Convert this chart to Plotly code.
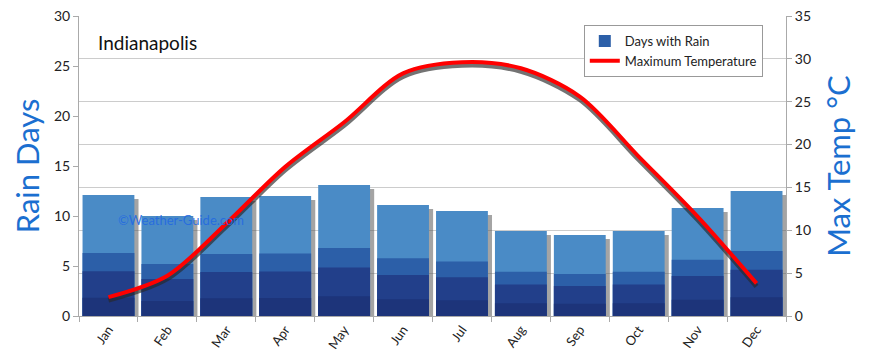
import plotly.graph_objects as go

months = ["Jan", "Feb", "Mar", "Apr", "May", "Jun", "Jul", "Aug", "Sep", "Oct", "Nov", "Dec"]
rain_days = [12.1, 10.0, 11.9, 12.0, 13.1, 11.1, 10.5, 8.5, 8.1, 8.5, 10.8, 12.5]
max_temp = [2.2, 4.7, 10.8, 17.4, 22.6, 28.3, 29.6, 28.9, 25.6, 18.6, 11.6, 3.8]

FONT = "Lato"
BLUE_TITLE = "#1b6fd0"

fig = go.Figure()

# bar drop shadow
fig.add_trace(go.Bar(
    x=months, y=[v - 0.4 for v in rain_days], width=0.88, offset=-0.37,
    marker=dict(color="rgba(90,90,90,0.55)", line=dict(width=0)),
    showlegend=False, hoverinfo="skip"))

# layered bars to mimic gradient
layers = [
    (1.00, "#4a8bc6", False),
    (0.52, "#2c5fa8", True),
    (0.37, "#223f8a", False),
    (0.15, "#1d347a", False),
]
for frac, col, leg in layers:
    fig.add_trace(go.Bar(
        x=months, y=[v * frac for v in rain_days], width=0.88, offset=-0.44,
        marker=dict(color=col, line=dict(width=0)),
        name="Days with Rain", showlegend=leg, hoverinfo="skip"))

# line shadow
fig.add_trace(go.Scatter(
    x=months, y=[t - 0.35 for t in max_temp], yaxis="y2", mode="lines",
    line=dict(color="rgba(40,40,40,0.65)", width=5, shape="spline", smoothing=0.9),
    showlegend=False, hoverinfo="skip"))

fig.add_trace(go.Scatter(
    x=months, y=max_temp, yaxis="y2", mode="lines",
    line=dict(color="#ff0000", width=4, shape="spline", smoothing=0.9),
    name="Maximum Temperature"))

# page body has an 8px margin, so the figure is 8px smaller and shifted
fig.update_layout(
    width=862, height=356,
    margin=dict(l=71, r=84, t=8, b=48, autoexpand=False),
    paper_bgcolor="white", plot_bgcolor="white",
    barmode="overlay",
    font=dict(family=FONT, size=14, color="#222"),
    xaxis=dict(
        automargin=False,
        showline=True, linecolor="#aaaaaa", linewidth=1,
        ticks="outside", tickson="boundaries", ticklen=5, tickcolor="#aaaaaa",
        tickangle=-55, tickfont=dict(size=13, color="#222"),
        showgrid=False, range=[-0.5, 11.5]),
    yaxis=dict(
        automargin=False, ticklabeloverflow="allow",
        range=[0, 30], dtick=5, showgrid=False, zeroline=False,
        showline=True, linecolor="#aaaaaa", ticks="outside", ticklen=5,
        tickcolor="#aaaaaa", tickfont=dict(size=14, color="#222"),
        title=dict(text="Rain Days", font=dict(size=31, color=BLUE_TITLE), standoff=12)),
    yaxis2=dict(
        automargin=False, ticklabeloverflow="allow",
        range=[0, 35], dtick=5, overlaying="y", side="right",
        showgrid=True, gridcolor="#cccccc", gridwidth=1, zeroline=False,
        showline=True, linecolor="#aaaaaa", ticks="outside", ticklen=5,
        tickcolor="#aaaaaa", tickfont=dict(size=14, color="#222"),
        title=dict(text="Max Temp °C", font=dict(size=31, color=BLUE_TITLE), standoff=18)),
    legend=dict(
        x=0.714, y=0.97, xanchor="left", yanchor="top",
        bgcolor="white", bordercolor="#999999", borderwidth=1,
        font=dict(size=13, color="#222"), tracegroupgap=2),
    showlegend=True,
    annotations=[
        dict(text="Indianapolis", xref="paper", yref="paper", x=0.024, y=0.913,
             xanchor="left", yanchor="middle", showarrow=False,
             font=dict(size=19, color="#111", family=FONT)),
        dict(text="©Weather-Guide.com", xref="paper", yref="paper", x=0.144, y=0.32,
             xanchor="center", yanchor="middle", showarrow=False,
             font=dict(size=13, color="rgba(35,105,225,0.9)", family=FONT)),
    ],
)

fig.write_html("out.html")
